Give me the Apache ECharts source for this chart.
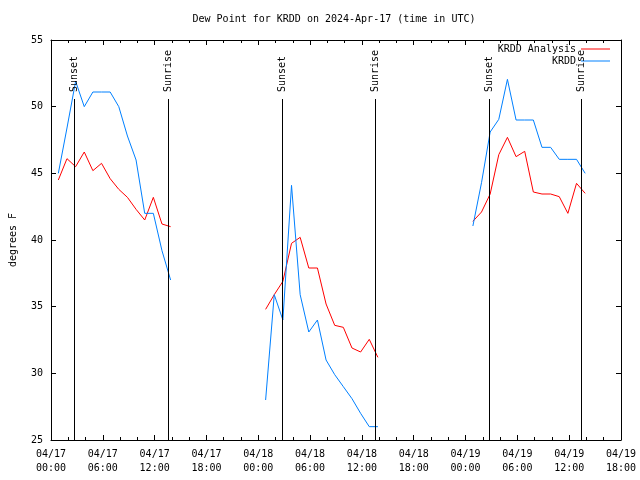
<!DOCTYPE html>
<html>
<head>
<meta charset="utf-8">
<script src="https://cdn.jsdelivr.net/npm/echarts@6/dist/echarts.min.js"></script>
<style>html,body{margin:0;padding:0;background:#fff;}#c{width:640px;height:480px;}</style>
</head>
<body>
<div id="c"></div>
<script>
// Hours since 2024-04-17 00:00 UTC
const hoursA = [0.85, 1.85, 2.85, 3.85, 4.85, 5.85, 6.85, 7.85, 8.85, 9.85, 10.85, 11.85, 12.85, 13.85];
const hoursB = [24.85, 25.85, 26.85, 27.85, 28.85, 29.85, 30.85, 31.85, 32.85, 33.85, 34.85, 35.85, 36.85, 37.85];
const hoursC = [48.85, 49.85, 50.85, 51.85, 52.85, 53.85, 54.85, 55.85, 56.85, 57.85, 58.85, 59.85, 60.85, 61.85];

const krddA = [45.0, 48.4, 51.9, 50.0, 51.1, 51.1, 51.1, 50.0, 47.8, 46.0, 42.0, 42.0, 39.2, 37.0];
const krddB = [28.0, 35.9, 34.0, 44.1, 35.9, 33.1, 34.0, 31.0, 29.9, 29.0, 28.1, 27.0, 26.0, 26.0];
const krddC = [41.05, 44.3, 48.1, 49.05, 52.05, 49.0, 49.0, 49.0, 46.95, 46.95, 46.05, 46.05, 46.05, 45.0];

const analysisA = [44.5, 46.1, 45.5, 46.6, 45.2, 45.75, 44.6, 43.8, 43.2, 42.3, 41.5, 43.2, 41.2, 41.0];
const analysisB = [34.8, 35.9, 36.9, 39.75, 40.2, 37.9, 37.9, 35.2, 33.6, 33.45, 31.9, 31.6, 32.55, 31.2];
const analysisC = [41.4, 42.1, 43.45, 46.4, 47.7, 46.25, 46.65, 43.6, 43.45, 43.45, 43.25, 42.0, 44.25, 43.5];

const sunHours = [2.68, 13.49, 26.71, 37.52, 50.75, 61.40];
const sunLabels = ['Sunset', 'Sunrise', 'Sunset', 'Sunrise', 'Sunset', 'Sunrise'];

const xTickLabels = ['04/17\n00:00', '04/17\n06:00', '04/17\n12:00', '04/17\n18:00',
  '04/18\n00:00', '04/18\n06:00', '04/18\n12:00', '04/18\n18:00',
  '04/19\n00:00', '04/19\n06:00', '04/19\n12:00', '04/19\n18:00'];

const FONT = 'DejaVu Sans Mono';

function build(segHours, segVals) {
  const out = [];
  for (let s = 0; s < segHours.length; s++) {
    if (s > 0) {
      const prev = segHours[s - 1];
      out.push([(prev[prev.length - 1] + segHours[s][0]) / 2, null]);
    }
    segHours[s].forEach((h, i) => out.push([h, segVals[s][i]]));
  }
  return out;
}

const chart = echarts.init(document.getElementById('c'), null, { renderer: 'canvas' });

const xBase = {
  type: 'value', min: 0, max: 66, interval: 6,
  axisLine: { show: true, onZero: false, lineStyle: { color: '#000', width: 1 } },
  axisTick: { show: true, inside: true, length: 5, lineStyle: { color: '#000' } },
  minorTick: { show: true, splitNumber: 3, length: 3, lineStyle: { color: '#000' } },
  splitLine: { show: false }
};
const yBase = {
  type: 'value', min: 25, max: 55, interval: 5,
  axisLine: { show: true, onZero: false, lineStyle: { color: '#000', width: 1 } },
  axisTick: { show: true, inside: true, length: 5, lineStyle: { color: '#000' } },
  splitLine: { show: false }
};

const legendBase = {
  right: 30, align: 'right', itemWidth: 29, itemHeight: 1, padding: 0,
  icon: 'rect', selectedMode: false,
  textStyle: { fontFamily: FONT, fontSize: 10, color: '#000' }
};

chart.setOption({
  animation: false,
  backgroundColor: '#fff',
  title: {
    text: 'Dew Point for KRDD on 2024-Apr-17 (time in UTC)',
    left: 334, top: 14, textAlign: 'center', padding: 0,
    textStyle: { fontFamily: FONT, fontSize: 10, fontWeight: 'normal', color: '#000' }
  },
  legend: [
    Object.assign({}, legendBase, { data: ['KRDD Analysis'], top: 44 }),
    Object.assign({}, legendBase, { data: ['KRDD'], top: 56 })
  ],
  grid: { left: 47, right: 19, top: 40, bottom: 40, containLabel: false },
  xAxis: [
    Object.assign({}, xBase, {
      position: 'bottom',
      axisLabel: {
        margin: 7, fontFamily: FONT, fontSize: 10, color: '#000', lineHeight: 14,
        formatter: v => xTickLabels[Math.round(v / 6)] || ''
      }
    }),
    Object.assign({}, xBase, { position: 'top', axisLabel: { show: false } })
  ],
  yAxis: [
    Object.assign({}, yBase, {
      position: 'left',
      name: 'degrees F', nameLocation: 'middle', nameGap: 33, nameRotate: 90,
      nameTextStyle: { fontFamily: FONT, fontSize: 10, color: '#000' },
      axisLabel: { margin: 8, fontFamily: FONT, fontSize: 10, color: '#000' }
    }),
    Object.assign({}, yBase, { position: 'right', axisLabel: { show: false } })
  ],
  series: [
    {
      name: 'KRDD Analysis', type: 'line', xAxisIndex: 0, yAxisIndex: 0,
      data: build([hoursA, hoursB, hoursC], [analysisA, analysisB, analysisC]),
      symbol: 'none', showSymbol: false, connectNulls: false,
      lineStyle: { color: '#ff0000', width: 1 }, itemStyle: { color: '#ff0000' }, z: 3
    },
    {
      name: 'KRDD', type: 'line', xAxisIndex: 0, yAxisIndex: 0,
      data: build([hoursA, hoursB, hoursC], [krddA, krddB, krddC]),
      symbol: 'none', showSymbol: false, connectNulls: false,
      lineStyle: { color: '#0080ff', width: 1 }, itemStyle: { color: '#0080ff' }, z: 4
    },
    {
      name: 'sun', type: 'custom', xAxisIndex: 0, yAxisIndex: 0,
      data: sunHours.map(h => [h, 25]),
      encode: { x: 0, y: 1 },
      z: 5,
      renderItem: function (params, api) {
        const x = Math.round(api.coord([api.value(0), 25])[0]) + 0.5;
        const cs = params.coordSys;
        return {
          type: 'group',
          children: [
            { type: 'line', shape: { x1: x, y1: cs.y + 59, x2: x, y2: cs.y + cs.height },
              style: { stroke: '#000', lineWidth: 1 } },
            { type: 'text', x: x, y: cs.y + 52, rotation: Math.PI / 2,
              style: { text: sunLabels[params.dataIndex], fill: '#000',
                font: '10px ' + FONT, textAlign: 'left', textVerticalAlign: 'middle' } }
          ]
        };
      }
    }
  ]
});
</script>
</body>
</html>
